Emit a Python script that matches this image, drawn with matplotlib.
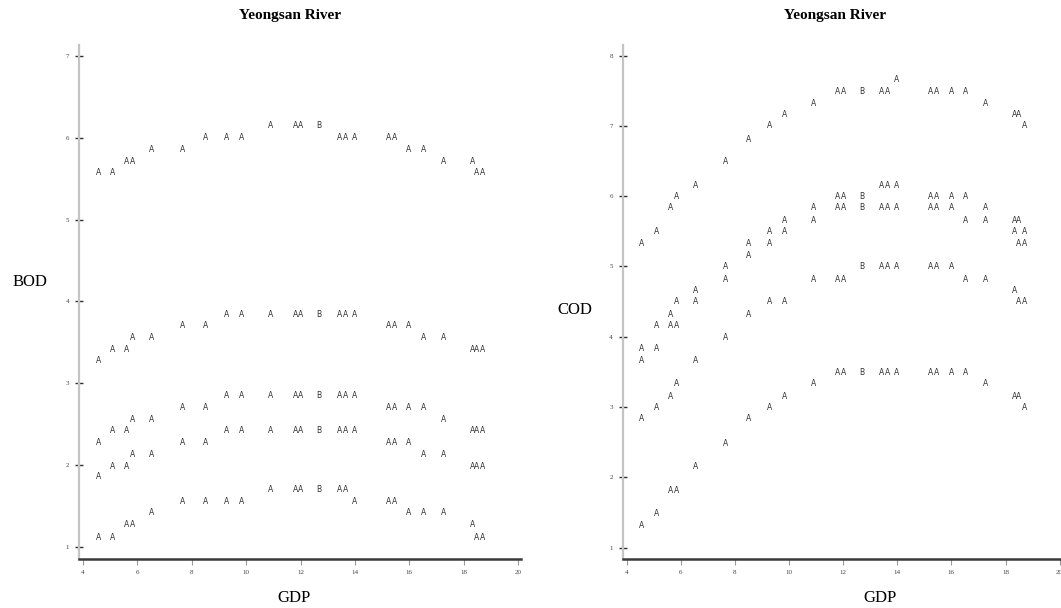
import matplotlib
matplotlib.use('Agg')
import matplotlib.pyplot as plt

# GDP values shared by every series (one observation per year)
gdp = [4.56, 5.09, 5.62, 5.84, 6.53, 7.65, 8.52, 9.28, 9.82, 10.90, 11.80, 12.02,
       12.69, 13.42, 13.64, 13.99, 15.22, 15.47, 15.99, 16.52, 17.25, 18.32, 18.49, 18.71]
# number of observations hidden under each plotted letter (A = 1, B = 2)
n_obs = [1] * 12 + [2] + [1] * 11

bod_1 = [5.57, 5.57, 5.71, 5.71, 5.86, 5.86, 6.00, 6.00, 6.00, 6.15, 6.15, 6.15,
         6.15, 6.00, 6.00, 6.00, 6.00, 6.00, 5.86, 5.86, 5.71, 5.71, 5.57, 5.57]
bod_2 = [3.28, 3.41, 3.41, 3.56, 3.56, 3.71, 3.71, 3.84, 3.84, 3.84, 3.84, 3.84,
         3.84, 3.84, 3.84, 3.84, 3.71, 3.71, 3.71, 3.56, 3.56, 3.41, 3.41, 3.41]
bod_3 = [2.28, 2.42, 2.42, 2.56, 2.56, 2.71, 2.71, 2.85, 2.85, 2.85, 2.85, 2.85,
         2.85, 2.85, 2.85, 2.85, 2.71, 2.71, 2.71, 2.71, 2.56, 2.42, 2.42, 2.42]
bod_4 = [1.86, 1.99, 1.99, 2.13, 2.13, 2.28, 2.28, 2.42, 2.42, 2.42, 2.42, 2.42,
         2.42, 2.42, 2.42, 2.42, 2.28, 2.28, 2.28, 2.13, 2.13, 1.99, 1.99, 1.99]
bod_5 = [1.12, 1.12, 1.28, 1.28, 1.42, 1.56, 1.56, 1.56, 1.56, 1.70, 1.70, 1.70,
         1.70, 1.70, 1.70, 1.56, 1.56, 1.56, 1.42, 1.42, 1.42, 1.28, 1.12, 1.12]

cod_1 = [5.33, 5.49, 5.84, 5.99, 6.15, 6.49, 6.81, 7.00, 7.16, 7.32, 7.49, 7.49,
         7.49, 7.49, 7.49, 7.66, 7.49, 7.49, 7.49, 7.49, 7.32, 7.16, 7.16, 7.00]
cod_2 = [3.83, 4.16, 4.32, 4.50, 4.66, 5.00, 5.33, 5.49, 5.66, 5.84, 5.99, 5.99,
         5.99, 6.15, 6.15, 6.15, 5.99, 5.99, 5.99, 5.99, 5.84, 5.66, 5.66, 5.49]
cod_3 = [3.66, 3.83, 4.16, 4.16, 4.50, 4.82, 5.16, 5.33, 5.49, 5.66, 5.84, 5.84,
         5.84, 5.84, 5.84, 5.84, 5.84, 5.84, 5.84, 5.66, 5.66, 5.49, 5.33, 5.33]
cod_4 = [2.83, 2.99, 3.15, 3.34, 3.66, 3.99, 4.32, 4.50, 4.50, 4.82, 4.82, 4.82,
         5.00, 5.00, 5.00, 5.00, 5.00, 5.00, 5.00, 4.82, 4.82, 4.66, 4.50, 4.50]
cod_5 = [1.32, 1.49, 1.82, 1.82, 2.16, 2.48, 2.83, 2.99, 3.15, 3.34, 3.49, 3.49,
         3.49, 3.49, 3.49, 3.49, 3.49, 3.49, 3.49, 3.49, 3.34, 3.15, 3.15, 2.99]

x_ticks = [4, 6, 8, 10, 12, 14, 16, 18, 20]
bod_ticks = [1, 2, 3, 4, 5, 6, 7]
cod_ticks = [1, 2, 3, 4, 5, 6, 7, 8]

SERIF = 'Liberation Serif'

fig = plt.figure(figsize=(10.61, 6.08), dpi=100)
ax_bod = fig.add_axes([0.0744, 0.0803, 0.4164, 0.8457])
ax_cod = fig.add_axes([0.5868, 0.0803, 0.4132, 0.8457])


def letter_plot(ax, series):
    for ys in series:
        for x, y, n in zip(gdp, ys, n_obs):
            ax.text(x, y, 'A' if n == 1 else 'B', ha='center', va='center',
                    fontsize=5.5, color='#333333', family='DejaVu Sans')


def style_axes(ax, yticks):
    for side in ['top', 'right']:
        ax.spines[side].set_visible(False)
    ax.spines['left'].set_color('#c4c4c4')
    ax.spines['left'].set_linewidth(1.6)
    ax.spines['bottom'].set_color('#3a3a3a')
    ax.spines['bottom'].set_linewidth(1.8)
    ax.set_xticks(x_ticks)
    ax.set_yticks(yticks)
    ax.tick_params(axis='y', direction='inout', length=6, width=1,
                   color='#333333', labelsize=5, labelcolor='#444444', pad=4)
    ax.tick_params(axis='x', direction='out', length=4, width=0.8,
                   color='#999999', labelsize=5, labelcolor='#444444', pad=4)
    for lab in ax.get_xticklabels() + ax.get_yticklabels():
        lab.set_family(SERIF)


letter_plot(ax_bod, [bod_1, bod_2, bod_3, bod_4, bod_5])
style_axes(ax_bod, bod_ticks)
ax_bod.set_xlim(3.85, 20.1)
ax_bod.set_ylim(0.855, 7.13)

letter_plot(ax_cod, [cod_1, cod_2, cod_3, cod_4, cod_5])
style_axes(ax_cod, cod_ticks)
ax_cod.set_xlim(3.85, 20.05)
ax_cod.set_ylim(0.836, 8.15)

# titles and axis names, placed like the original figure
fig.text(290 / 1061, 1 - 15 / 608, 'Yeongsan River', ha='center', va='center',
         fontsize=11, fontweight='bold', family=SERIF)
fig.text(835 / 1061, 1 - 15 / 608, 'Yeongsan River', ha='center', va='center',
         fontsize=11, fontweight='bold', family=SERIF)
fig.text(30 / 1061, 1 - 282 / 608, 'BOD', ha='center', va='center',
         fontsize=12, family=SERIF)
fig.text(575 / 1061, 1 - 310 / 608, 'COD', ha='center', va='center',
         fontsize=12, family=SERIF)
fig.text(294 / 1061, 1 - 598 / 608, 'GDP', ha='center', va='center',
         fontsize=12, family=SERIF)
fig.text(880 / 1061, 1 - 598 / 608, 'GDP', ha='center', va='center',
         fontsize=12, family=SERIF)

fig.savefig('out.png', dpi=100)
